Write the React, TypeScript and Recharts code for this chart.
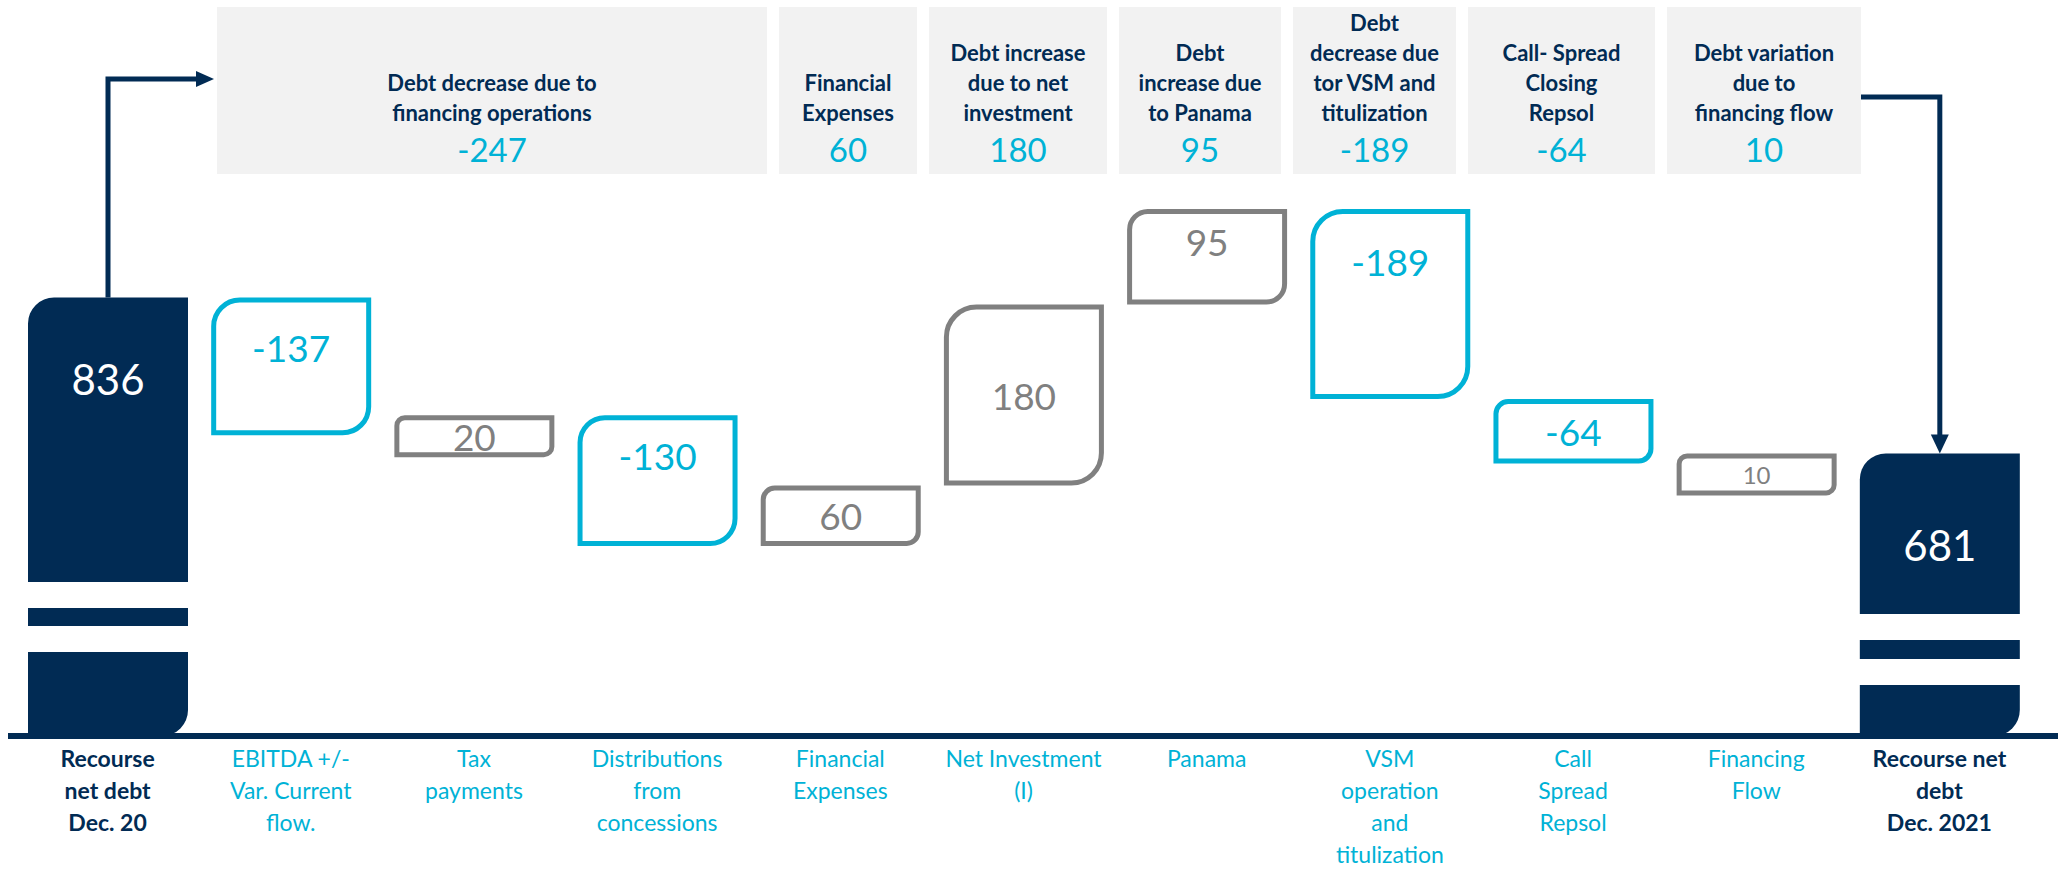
import { Bar, BarChart, XAxis, YAxis } from "recharts";

const CATEGORY_LINES = [
  ["Recourse", "net debt", "Dec. 20"],
  ["EBITDA +/-", "Var. Current", "flow."],
  ["Tax", "payments"],
  ["Distributions", "from", "concessions"],
  ["Financial", "Expenses"],
  ["Net Investment", "(I)"],
  ["Panama"],
  ["VSM", "operation", "and", "titulization"],
  ["Call", "Spread", "Repsol"],
  ["Financing", "Flow"],
  ["Recourse net", "debt", "Dec. 2021"],
];
const CATEGORIES = CATEGORY_LINES.map((l) => l.join(" "));

const START_DEBT = 836;
const END_DEBT = 681;
const CHANGES = [-137, 20, -130, 60, 180, 95, -189, -64, 10];

const HEADER_TITLES = [
  ["Debt decrease due to", "financing operations"],
  ["Financial", "Expenses"],
  ["Debt increase", "due to net", "investment"],
  ["Debt", "increase due", "to Panama"],
  ["Debt", "decrease due", "tor VSM and", "titulization"],
  ["Call- Spread", "Closing", "Repsol"],
  ["Debt variation", "due to", "financing flow"],
];
const HEADER_VALUES = [-247, 60, 180, 95, -189, -64, 10];

const NAVY = "#012B54";
const CYAN = "#00B2D6";
const GRAY = "#808080";
const FONT = "Lato, 'Open Sans', sans-serif";

// waterfall rows: totals are plain numbers (drawn from the axis floor), changes are [low, high]
type Row = { name: string; kind: string; value: number; bar: number | number[] };
const rows: Row[] = [];
let level = START_DEBT;
rows.push({ name: CATEGORIES[0], kind: "start", value: START_DEBT, bar: START_DEBT });
CHANGES.forEach((d, i) => {
  const next = level + d;
  rows.push({
    name: CATEGORIES[i + 1],
    kind: d < 0 ? "down" : "up",
    value: d,
    bar: [Math.min(level, next), Math.max(level, next)],
  });
  level = next;
});
rows.push({ name: CATEGORIES[CATEGORIES.length - 1], kind: "end", value: END_DEBT, bar: END_DEBT });

// label placement per bar: offset from box top, or null for centred
const LABEL_STYLE = [
  { off: 81, size: 42 },
  { off: 50, size: 37 },
  { off: null, size: 37 },
  { off: 40, size: 37 },
  { off: null, size: 37 },
  { off: null, size: 37 },
  { off: 32, size: 37 },
  { off: 52, size: 37 },
  { off: null, size: 37 },
  { off: null, size: 24 },
  { off: 92, size: 42 },
];

const HEADER_BOXES = [
  { left: 217, width: 550 },
  { left: 779, width: 138 },
  { left: 929, width: 178 },
  { left: 1119, width: 162 },
  { left: 1293, width: 163 },
  { left: 1468, width: 187 },
  { left: 1667, width: 194 },
];

function diagPath(x: number, y: number, w: number, h: number, r: number) {
  return (
    `M${x + r},${y} L${x + w},${y} L${x + w},${y + h - r} ` +
    `A${r},${r} 0 0 1 ${x + w - r},${y + h} L${x},${y + h} L${x},${y + r} ` +
    `A${r},${r} 0 0 1 ${x + r},${y} Z`
  );
}

function WaterfallShape(props: any) {
  const { x, y, width, height, payload, index } = props;
  const top = Math.min(y, y + height);
  let h = Math.abs(height);
  const w = width;
  const cx = x + w / 2;
  const ls = LABEL_STYLE[index];

  if (payload.kind === "start" || payload.kind === "end") {
    const bottom = top + h;
    const gaps = payload.kind === "start" ? [[154, 128], [110, 84]] : [[122, 96], [77, 51]];
    return (
      <g>
        <path d={diagPath(x, top, w, h, 26)} fill={NAVY} />
        {gaps.map(([a, b], i) => (
          <rect key={i} x={x - 1} y={bottom - a} width={w + 2} height={a - b} fill="#fff" />
        ))}
        {payload.kind === "start" ? (
          <g>
            <path d={`M${cx},${top} V79 H199`} stroke={NAVY} strokeWidth={5} fill="none" />
            <polygon points="196,71 214,79 196,87" fill={NAVY} />
          </g>
        ) : (
          <g>
            <path d={`M1861,97 H${cx} V${top - 17}`} stroke={NAVY} strokeWidth={5} fill="none" />
            <polygon points={`${cx - 9},${top - 19} ${cx + 9},${top - 19} ${cx},${top}`} fill={NAVY} />
          </g>
        )}
        <text
          x={cx}
          y={top + ls.off!}
          textAnchor="middle"
          dominantBaseline="central"
          fill="#fff"
          fontSize={ls.size}
          fontFamily={FONT}
        >
          {payload.value}
        </text>
      </g>
    );
  }

  // small changes keep a readable minimum box height, growing downward
  if (h < 42) h = 42;
  const color = payload.kind === "down" ? CYAN : GRAY;
  const sw = 5;
  const r = Math.min(30, 0.19 * Math.min(w, h));
  const ly = ls.off == null ? top + h / 2 : top + ls.off;
  return (
    <g>
      <path
        d={diagPath(x + sw / 2, top + sw / 2, w - sw, h - sw, r)}
        fill="#fff"
        stroke={color}
        strokeWidth={sw}
      />
      <text
        x={cx}
        y={ly}
        textAnchor="middle"
        dominantBaseline="central"
        fill={color}
        fontSize={ls.size}
        fontFamily={FONT}
      >
        {payload.value}
      </text>
    </g>
  );
}

function CategoryTick(props: any) {
  const { x, y, payload } = props;
  const i = CATEGORIES.indexOf(payload.value);
  const lines = CATEGORY_LINES[i] || [];
  const bold = i === 0 || i === CATEGORIES.length - 1;
  return (
    <text
      x={x}
      y={y}
      textAnchor="middle"
      fontFamily={FONT}
      fontSize={23}
      fontWeight={bold ? 700 : 400}
      fill={bold ? NAVY : CYAN}
    >
      {lines.map((l, k) => (
        <tspan key={k} x={x} dy={k === 0 ? 23 : 32}>
          {l}
        </tspan>
      ))}
    </text>
  );
}

export default function App() {
  return (
    <div
      style={{
        position: "absolute",
        left: 0,
        top: 0,
        width: 2058,
        height: 869,
        background: "#fff",
        fontFamily: FONT,
      }}
    >
      {HEADER_TITLES.map((title, i) => (
        <div
          key={i}
          style={{
            position: "absolute",
            left: HEADER_BOXES[i].left,
            width: HEADER_BOXES[i].width,
            top: 7,
            height: 167,
            background: "#F2F2F2",
            display: "flex",
            flexDirection: "column",
            justifyContent: "flex-end",
            alignItems: "center",
            textAlign: "center",
            paddingBottom: 8,
            boxSizing: "border-box",
          }}
        >
          <div style={{ color: NAVY, fontWeight: 700, fontSize: 22, lineHeight: "30px" }}>
            {title.map((t, k) => (
              <div key={k}>{t}</div>
            ))}
          </div>
          <div style={{ color: CYAN, fontSize: 33, lineHeight: "34px", marginTop: 4 }}>
            {HEADER_VALUES[i]}
          </div>
        </div>
      ))}
      <div style={{ position: "absolute", left: 0, top: 0 }}>
        <BarChart
          width={2058}
          height={869}
          data={rows}
          margin={{ top: 203, right: 0, bottom: 0, left: 8 }}
        >
          <XAxis
            dataKey="name"
            height={133}
            interval={0}
            tickLine={false}
            axisLine={{ stroke: NAVY, strokeWidth: 6 }}
            padding={{ left: 8, right: 27 }}
            tick={<CategoryTick />}
          />
          <YAxis hide domain={[400, 930]} />
          <Bar dataKey="bar" barSize={160} shape={<WaterfallShape />} isAnimationActive={false} />
        </BarChart>
      </div>
    </div>
  );
}
